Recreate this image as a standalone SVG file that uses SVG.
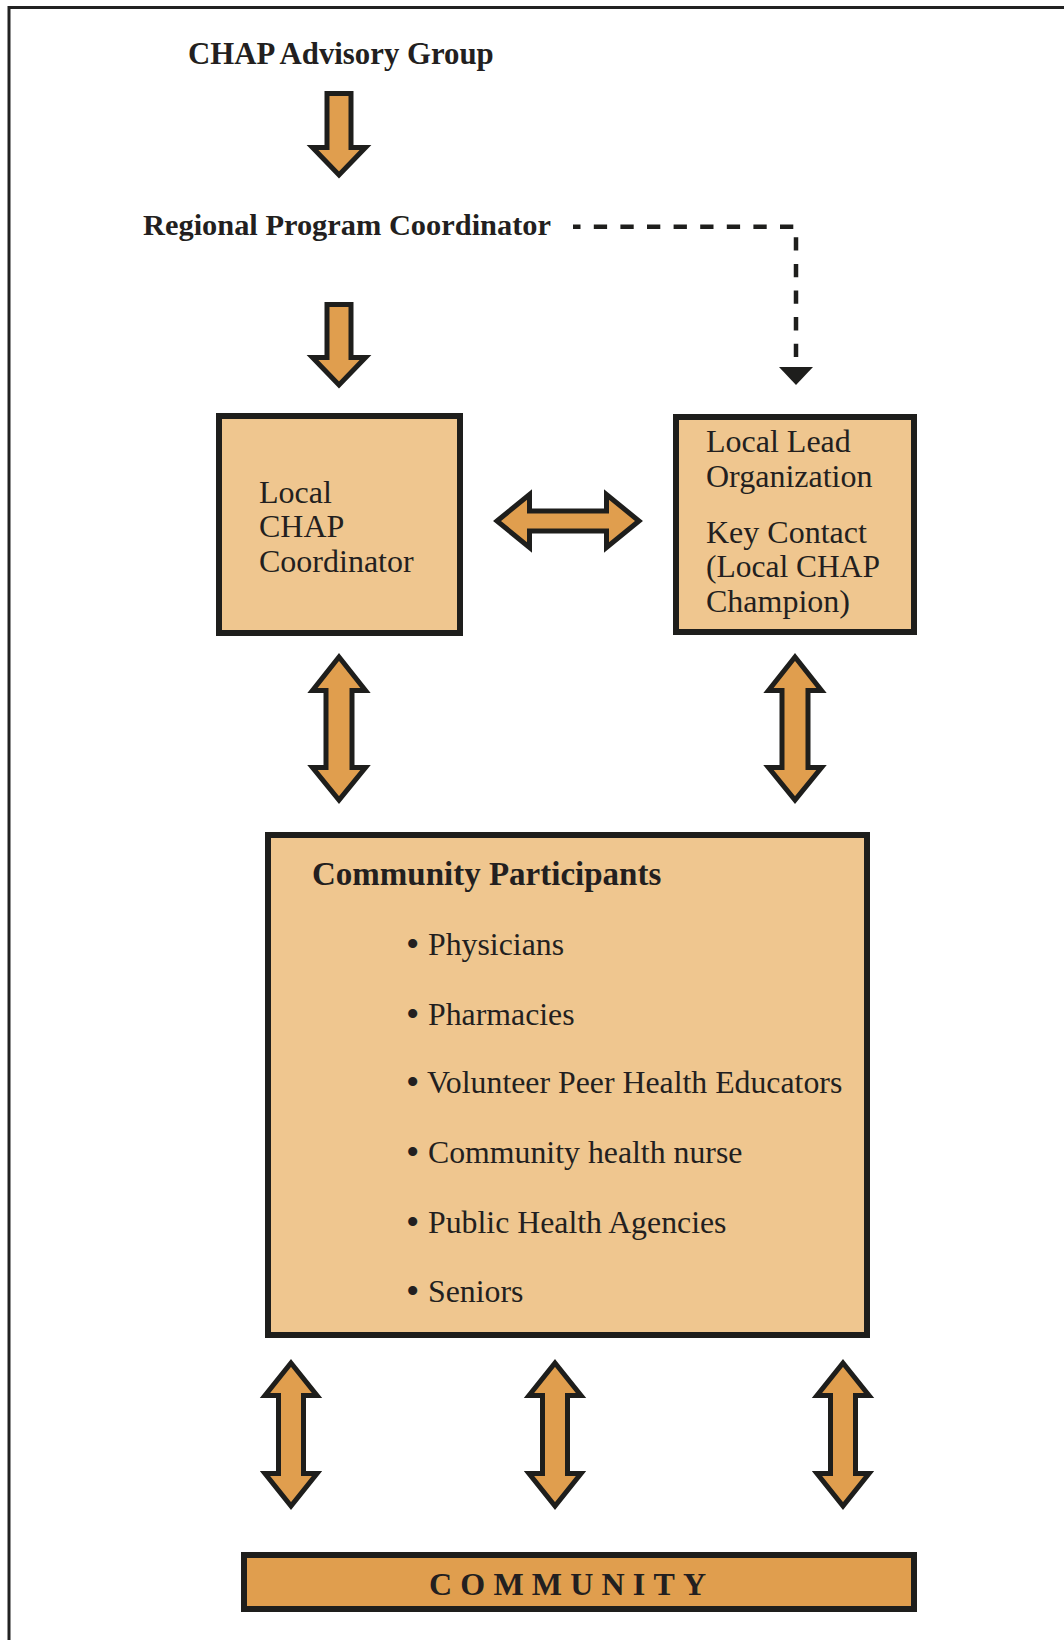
<svg xmlns="http://www.w3.org/2000/svg" width="1064" height="1640" viewBox="0 0 1064 1640">
<style>
  .t { font-family: "Liberation Serif", "Times New Roman", serif; fill: #231F20; }
  .b { font-weight: bold; }
  .li { font-size: 31.8px; }
  .bu { font-size: 38px; }
  .box { fill: #EFC68F; stroke: #1E1E1C; stroke-width: 6; }
  .bar { fill: #E09E4E; stroke: #1E1E1C; stroke-width: 6; }
  .arr { fill: #E09E4E; stroke: #1E1E1C; stroke-width: 5; stroke-linejoin: miter; stroke-miterlimit: 10; }
  .dash { fill: none; stroke: #1E1E1C; stroke-width: 4.5; stroke-dasharray: 13.3 13.3; }
</style>
<rect width="1064" height="1640" fill="#FFFFFF"/>
<path d="M 9 1640 V 7.5 H 1064" fill="none" stroke="#222" stroke-width="3"/>

<g id="advisory-group">
  <text class="t b" x="188" y="64" font-size="30.8">CHAP Advisory Group</text>
</g>
<g id="regional-coordinator">
  <text class="t b" x="143" y="235" font-size="30.4">Regional Program Coordinator</text>
</g>
<g id="local-chap-coordinator">
  <rect class="box" x="219" y="416" width="241" height="217"/>
  <text class="t" x="259" y="503" font-size="32">Local</text>
  <text class="t" x="259" y="537" font-size="32">CHAP</text>
  <text class="t" x="259" y="572" font-size="32">Coordinator</text>
</g>
<g id="local-lead-organization">
  <rect class="box" x="676" y="417" width="238" height="215"/>
  <text class="t" x="706" y="452" font-size="32">Local Lead</text>
  <text class="t" x="706" y="487" font-size="32">Organization</text>
  <text class="t" x="706" y="543" font-size="32">Key Contact</text>
  <text class="t" x="706" y="577" font-size="31.5">(Local CHAP</text>
  <text class="t" x="706" y="612" font-size="32">Champion)</text>
</g>
<g id="community-participants">
  <rect class="box" x="268" y="835" width="599" height="500"/>
  <text class="t b" x="312" y="885" font-size="33">Community Participants</text>
  <text class="t bu" x="406" y="957">•</text><text class="t li" x="428" y="955">Physicians</text>
  <text class="t bu" x="406" y="1027">•</text><text class="t li" x="428" y="1025">Pharmacies</text>
  <text class="t bu" x="406" y="1095">•</text><text class="t li" x="427" y="1093">Volunteer Peer Health Educators</text>
  <text class="t bu" x="406" y="1165">•</text><text class="t li" x="428" y="1163">Community health nurse</text>
  <text class="t bu" x="406" y="1235">•</text><text class="t li" x="428" y="1233">Public Health Agencies</text>
  <text class="t bu" x="406" y="1304">•</text><text class="t li" x="428" y="1302">Seniors</text>
</g>
<g id="community">
  <rect class="bar" x="244" y="1555" width="670" height="54"/>
  <text class="t b" x="429" y="1595" font-size="32" letter-spacing="8.2">COMMUNITY</text>
</g>

<g id="connectors">
  <path class="arr" d="M 327 93.5 H 351 V 147.5 H 365.5 L 339 175 L 312.5 147.5 H 327 Z"/>
  <path class="arr" d="M 327 304.5 H 351 V 357.5 H 365.5 L 339 385 L 312.5 357.5 H 327 Z"/>
  <path class="dash" d="M 796 357 V 226.7 H 573"/>
  <path d="M 779 367 H 813 L 796 385 Z" fill="#1E1E1C"/>
  <path class="arr" d="M 497 521 L 529.5 494.5 V 511 H 606.5 V 494.5 L 639 521 L 606.5 547.5 V 531 H 529.5 V 547.5 Z"/>
  <path class="arr" d="M 339 657 L 365.5 690.5 H 352 V 767.5 H 365.5 L 339 800 L 312.5 767.5 H 326 V 690.5 H 312.5 Z"/>
  <path class="arr" d="M 795 657 L 821.5 690.5 H 808 V 767.5 H 821.5 L 795 800 L 768.5 767.5 H 782 V 690.5 H 768.5 Z"/>
  <path class="arr" d="M 291 1363 L 317 1395.5 H 303.5 V 1473.5 H 317 L 291 1506 L 265 1473.5 H 278.5 V 1395.5 H 265 Z"/>
  <path class="arr" d="M 555 1363 L 581 1395.5 H 567.5 V 1473.5 H 581 L 555 1506 L 529 1473.5 H 542.5 V 1395.5 H 529 Z"/>
  <path class="arr" d="M 843 1363 L 869 1395.5 H 855.5 V 1473.5 H 869 L 843 1506 L 817 1473.5 H 830.5 V 1395.5 H 817 Z"/>
</g>
</svg>
